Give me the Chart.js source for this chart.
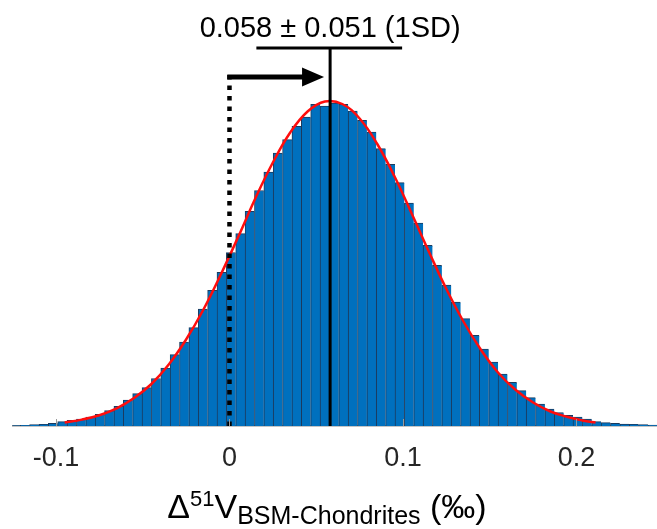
<!DOCTYPE html>
<html>
<head>
<meta charset="utf-8">
<script src="https://cdn.jsdelivr.net/npm/chart.js@4.4.1/dist/chart.umd.min.js"></script>
<style>
	html, body { margin: 0; padding: 0; background: #fff; }
	#wrap { width: 657px; height: 529px; }
</style>
</head>
<body>
<div id="wrap"><canvas id="myChart" width="657" height="529"></canvas></div>
<script>
'use strict';

// histogram bins (centre of each bin, ‰) and bar heights (arbitrary counts)
const binCenters = [
	-0.1233, -0.1179, -0.1125, -0.1071, -0.1017, -0.0963, -0.0909, -0.0855, -0.0801, -0.0747,
	-0.0693, -0.0639, -0.0585, -0.0531, -0.0477, -0.0423, -0.0369, -0.0315, -0.0261, -0.0207,
	-0.0153, -0.0099, -0.0045, 0.0009, 0.0063, 0.0117, 0.0171, 0.0225, 0.0279, 0.0333,
	0.0387, 0.0441, 0.0495, 0.0549, 0.0603, 0.0657, 0.0711, 0.0765, 0.0819, 0.0873,
	0.0927, 0.0981, 0.1035, 0.1089, 0.1143, 0.1197, 0.1251, 0.1305, 0.1359, 0.1413,
	0.1467, 0.1521, 0.1575, 0.1629, 0.1683, 0.1737, 0.1791, 0.1845, 0.1899, 0.1953,
	0.2007, 0.2061, 0.2115, 0.2169, 0.2223, 0.2277, 0.2331, 0.2385, 0.2439,
];
const binHeights = [
	0.3, 0.7, 1.3, 1.7, 2.7, 4.3, 5.7, 7, 9, 11.7,
	15.3, 19.7, 26, 32.3, 38.3, 47.5, 58, 71.3, 84, 98.3,
	117, 135.7, 153.7, 173.5, 192.3, 214.7, 235.5, 254, 273, 286.3,
	299.7, 309, 321.7, 320, 323, 321.7, 315, 305.7, 294, 277.3,
	261.7, 243.3, 223, 203, 180.7, 160.7, 141, 124, 107.3, 90.7,
	77, 64, 52, 43.7, 35.3, 28.3, 22, 17, 13.5, 10.7,
	9, 7, 4.3, 3.3, 2.7, 2, 1.7, 1.3, 1,
];

// red fitted curve
const curveX = [
	-0.095, -0.085, -0.075, -0.065, -0.055, -0.045, -0.035, -0.025, -0.015, -0.005,
	0.005, 0.015, 0.025, 0.035, 0.045, 0.055, 0.065, 0.075, 0.085, 0.095,
	0.105, 0.115, 0.125, 0.135, 0.145, 0.155, 0.165, 0.175, 0.185, 0.195,
	0.205, 0.211,
];
const curveY = [
	3.6, 6.4, 10.8, 17.7, 28, 42, 61.5, 86.5, 116.5, 151.5,
	189, 228, 263.5, 293.5, 314.5, 324.5, 322, 307.5, 282.5, 250,
	212.5, 174, 137, 104, 76, 53, 36, 23.5, 14.5, 9,
	5, 3.6,
];

const tickValues = [-0.1, 0, 0.1, 0.2];
const meanValue = 0.058;
const sdLabel = '0.058 ± 0.051 (1SD)';
const sdBar = [0.0155, 0.0995];
const arrowTip = 0.0545;

const FONT = '"Liberation Sans", Arial, Helvetica, sans-serif';

// annotations: dotted line at 0, arrow, mean line, 1SD bar and label
const annotationPlugin = {
	id: 'annotations',
	afterDatasetsDraw(chart) {
		const ctx = chart.ctx;
		const sx = chart.scales.x;
		const sy = chart.scales.y;
		const x0 = sx.getPixelForValue(0);
		const xm = sx.getPixelForValue(meanValue);
		const yBase = sy.getPixelForValue(0);
		const yBar = sy.getPixelForValue(378);
		const yArrow = sy.getPixelForValue(349);
		const yLabel = sy.getPixelForValue(389);

		ctx.save();
		// dotted line at zero
		ctx.strokeStyle = '#000';
		ctx.lineWidth = 4.5;
		ctx.setLineDash([4.5, 6]);
		ctx.beginPath();
		ctx.moveTo(x0, yArrow - 2);
		ctx.lineTo(x0, yBase);
		ctx.stroke();
		ctx.setLineDash([]);

		// arrow
		const xTip = sx.getPixelForValue(arrowTip);
		const xHead = xTip - 22;
		ctx.lineWidth = 5;
		ctx.beginPath();
		ctx.moveTo(x0 - 2.2, yArrow);
		ctx.lineTo(xHead + 2, yArrow);
		ctx.stroke();
		ctx.fillStyle = '#000';
		ctx.beginPath();
		ctx.moveTo(xTip, yArrow);
		ctx.lineTo(xHead, yArrow - 9.5);
		ctx.lineTo(xHead, yArrow + 9.5);
		ctx.closePath();
		ctx.fill();

		// mean line
		ctx.lineWidth = 3;
		ctx.beginPath();
		ctx.moveTo(xm, yBar);
		ctx.lineTo(xm, yBase);
		ctx.stroke();

		// 1SD bar
		ctx.beginPath();
		ctx.moveTo(sx.getPixelForValue(sdBar[0]), yBar);
		ctx.lineTo(sx.getPixelForValue(sdBar[1]), yBar);
		ctx.stroke();

		// label
		ctx.font = '29px ' + FONT;
		ctx.textAlign = 'center';
		ctx.textBaseline = 'alphabetic';
		ctx.fillText(sdLabel, xm, yLabel);

		// inner tick marks
		ctx.strokeStyle = '#9a9a9a';
		ctx.lineWidth = 1;
		tickValues.forEach((v) => {
			const px = Math.round(sx.getPixelForValue(v)) + 0.5;
			ctx.beginPath();
			ctx.moveTo(px, yBase);
			ctx.lineTo(px, yBase - 7);
			ctx.stroke();
		});
		ctx.restore();
	},
};

// x axis title with superscript and subscript
const titlePlugin = {
	id: 'axisTitle',
	afterDraw(chart) {
		const ctx = chart.ctx;
		const parts = [
			{ text: 'Δ', size: 34, dy: 0 },
			{ text: '51', size: 22, dy: -12 },
			{ text: 'V', size: 34, dy: 0 },
			{ text: 'BSM-Chondrites', size: 25, dy: 6 },
			{ text: ' (‰)', size: 34, dy: 0 },
		];
		let total = 0;
		parts.forEach((p) => {
			ctx.font = p.size + 'px ' + FONT;
			p.w = ctx.measureText(p.text).width;
			total += p.w;
		});
		const cx = 327;
		let x = cx - total / 2;
		const baseY = 518;
		ctx.save();
		ctx.fillStyle = '#000';
		ctx.textBaseline = 'alphabetic';
		ctx.textAlign = 'left';
		parts.forEach((p) => {
			ctx.font = p.size + 'px ' + FONT;
			ctx.fillText(p.text, x, baseY + p.dy);
			x += p.w;
		});
		ctx.restore();
	},
};

function prepareDataSets() {
	let aryDataSets = [];
	aryDataSets.push({
		type: 'line',
		label: 'fit',
		order: 0,
		data: curveX.map((x, i) => ({ x: x, y: curveY[i] })),
		borderColor: '#ff0d0d',
		borderWidth: 2.5,
		pointRadius: 0,
		tension: 0.4,
		fill: false,
	});
	aryDataSets.push({
		type: 'bar',
		label: 'histogram',
		order: 1,
		data: binCenters.map((x, i) => ({ x: x, y: binHeights[i] })),
		backgroundColor: '#0070be',
		borderColor: '#1c3a5c',
		borderWidth: { top: 1, left: 1, right: 0, bottom: 0 },
		borderSkipped: false,
		barPercentage: 1,
		categoryPercentage: 1,
	});
	return aryDataSets;
}

function prepareOptions() {
	return {
		responsive: false,
		animation: false,
		devicePixelRatio: 1,
		layout: { padding: { left: 12.6, right: 0, top: 0, bottom: 0 } },
		plugins: {
			legend: { display: false },
			tooltip: { enabled: false },
		},
		scales: {
			x: {
				type: 'linear',
				min: -0.125,
				max: 0.2464,
				offset: false,
				grid: { display: false, drawTicks: false },
				border: { display: true, color: '#8c8c8c', width: 1.5 },
				ticks: {
					font: { family: FONT, size: 27 },
					color: '#262626',
					padding: 16,
					maxRotation: 0,
					autoSkip: false,
					callback: (v) => (v === 0 ? '0' : String(v)),
				},
				afterBuildTicks: (scale) => {
					scale.ticks = tickValues.map((v) => ({ value: v }));
				},
				afterFit: (scale) => {
					scale.height = 103;
				},
			},
			y: {
				display: false,
				min: 0,
				max: 426,
			},
		},
	};
}

function chartIt() {
	const config = {
		type: 'bar',
		data: { datasets: prepareDataSets() },
		options: prepareOptions(),
		plugins: [annotationPlugin, titlePlugin],
	};
	return new Chart(document.getElementById('myChart'), config);
}

// *** Entry Point ***
chartIt();
</script>
</body>
</html>
